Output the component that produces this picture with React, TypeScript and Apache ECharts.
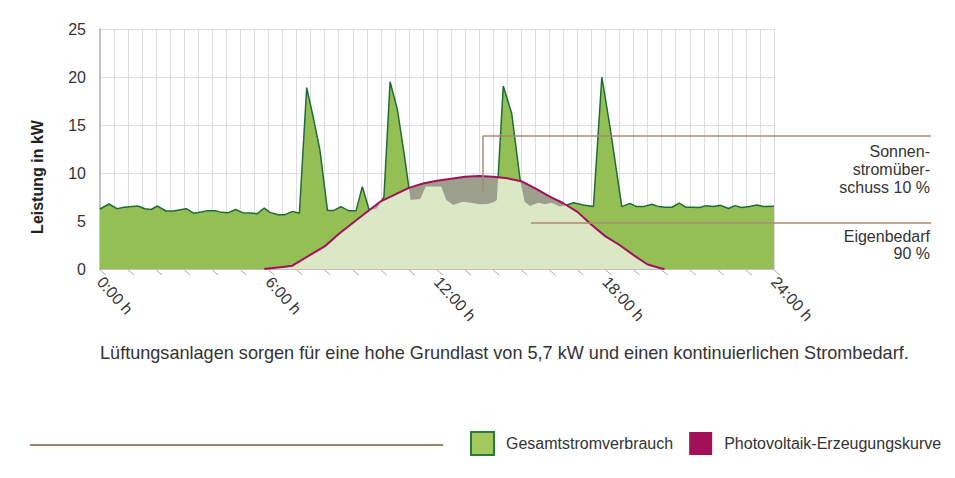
import React, { useEffect, useRef } from "react";
import * as echarts from "echarts";

// ---- data (hours of day, kW) ----
const consHours = [0, 0.32, 0.6, 0.83, 1.07, 1.34, 1.6, 1.82, 2.05, 2.35, 2.61, 2.81, 3.07, 3.35, 3.6, 3.83, 4.1, 4.33, 4.57, 4.83, 5.08, 5.34, 5.6, 5.85, 6.05,
  6.35, 6.59, 6.86, 7.1, 7.36, 7.6, 7.83, 8.1, 8.33, 8.58, 8.84, 9.12, 9.34, 9.59, 9.85, 10.11, 10.33, 10.59, 10.83, 11.06, 11.4, 11.6,
  12.15, 12.33, 12.58, 12.9, 13.2, 13.5, 13.8, 14.05, 14.13, 14.36, 14.66, 14.96, 15.12, 15.31, 15.61, 15.85, 16.08, 16.38, 16.62, 16.86, 17.21, 17.57, 17.87, 18.16, 18.58,
  18.87, 19.09, 19.35, 19.65, 19.89, 20.12, 20.36, 20.63, 20.87, 21.07, 21.34, 21.58, 21.84, 22.1, 22.38, 22.61, 22.85, 23.12, 23.39, 23.62, 24];
const consKW = [6.25, 6.77, 6.28, 6.42, 6.49, 6.56, 6.28, 6.2, 6.56, 6.04, 6.04, 6.15, 6.28, 5.8, 5.94, 6.08, 6.08, 5.9, 5.87, 6.2, 5.87, 5.83, 5.76, 6.35, 5.9,
  5.66, 5.66, 6.0, 5.8, 18.9, 15.7, 12.4, 6.1, 6.1, 6.5, 6.08, 6.08, 8.58, 6.1, 6.3, 7.5, 19.5, 16.6, 12.0, 7.2, 7.3, 8.6,
  8.6, 7.2, 6.67, 7.0, 6.9, 6.74, 6.78, 7.0, 7.2, 19.06, 16.2, 9.3, 7.0, 6.56, 6.9, 6.75, 6.9, 6.5, 6.67, 6.9, 6.67, 6.5, 20.0, 14.8, 6.5,
  6.84, 6.5, 6.5, 6.74, 6.5, 6.43, 6.43, 6.87, 6.43, 6.43, 6.4, 6.6, 6.5, 6.63, 6.3, 6.6, 6.4, 6.5, 6.67, 6.5, 6.53];

const pvHours = [5.85, 6.0, 6.5, 6.85, 7.0, 7.5, 8.0, 8.5, 9.0, 9.5, 10.0, 10.5, 11.0, 11.5, 12.0, 12.5, 13.0, 13.5, 14.0, 14.5, 15.0, 15.5, 16.0, 16.5, 17.0, 17.5, 18.0, 18.5, 19.0, 19.5, 20.0, 20.1];
const pvKW = [0, 0.05, 0.2, 0.35, 0.62, 1.49, 2.35, 3.64, 4.8, 5.93, 7.05, 7.74, 8.45, 8.9, 9.2, 9.4, 9.6, 9.7, 9.6, 9.45, 9.15, 8.4, 7.57, 6.85, 5.95, 4.6, 3.4, 2.5, 1.45, 0.47, 0.05, 0];

const axisTickHours = [0, 1, 2, 3, 4, 5, 6, 7, 8, 9, 10, 11, 12, 13, 14, 15, 16, 17, 18, 19, 20, 21, 22, 23, 24];
const labelHours = [0, 6, 12, 18, 24];

const seriesNames = ["Gesamtstromverbrauch", "Photovoltaik-Erzeugungskurve"];
const subtitle = "Lüftungsanlagen sorgen für eine hohe Grundlast von 5,7 kW und einen kontinuierlichen Strombedarf.";
const surplusText = "Sonnen-\nstromüber-\nschuss 10 %";
const ownUseText = "Eigenbedarf\n90 %";
const yAxisTitle = "Leistung in kW";

const FONT = "'Liberation Sans', Arial, Helvetica, sans-serif";

function valueAt(xs: number[], ys: number[], x: number, outside: number) {
  if (x < xs[0] || x > xs[xs.length - 1]) return outside;
  for (let i = 0; i < xs.length - 1; i++) {
    if (x >= xs[i] && x <= xs[i + 1]) {
      const t = (x - xs[i]) / (xs[i + 1] - xs[i]);
      return ys[i] + (ys[i + 1] - ys[i]) * t;
    }
  }
  return ys[ys.length - 1];
}

function buildMin() {
  const all = Array.from(new Set([...consHours, ...pvHours])).sort((a, b) => a - b);
  const c = (x: number) => valueAt(consHours, consKW, x, 0);
  const p = (x: number) => valueAt(pvHours, pvKW, x, 0);
  const out: number[][] = [];
  for (let i = 0; i < all.length; i++) {
    const t0 = all[i];
    out.push([t0, Math.min(c(t0), p(t0))]);
    if (i < all.length - 1) {
      const t1 = all[i + 1];
      const d0 = c(t0) - p(t0);
      const d1 = c(t1) - p(t1);
      if (d0 * d1 < 0) {
        const tx = t0 + ((t1 - t0) * d0) / (d0 - d1);
        out.push([tx, c(tx)]);
      }
    }
  }
  return out;
}

export default function App() {
  const ref = useRef<HTMLDivElement>(null);
  useEffect(() => {
    if (!ref.current) return;
    const chart = echarts.init(ref.current, null, { renderer: "svg" });
    const cons = consHours.map((h, i) => [h, consKW[i]]);
    const pv = pvHours.map((h, i) => [h, pvKW[i]]);
    const minData = buildMin();
    const brown = "#a88b70";
    const option: any = {
      animation: false,
      backgroundColor: "#ffffff",
      textStyle: { fontFamily: FONT },
      grid: { left: 100, top: 29, width: 674, height: 240, containLabel: false, outerBoundsMode: "none" },
      legend: {
        selectedMode: false,
        left: 470,
        top: 431,
        padding: 0,
        icon: "rect",
        itemWidth: 23,
        itemHeight: 23,
        itemGap: 16,
        textStyle: { fontSize: 16, color: "#333", fontFamily: FONT, padding: [0, 0, 0, 7] },
        data: [
          { name: seriesNames[0], itemStyle: { color: "#a3c85b", borderColor: "#2b7a3b", borderWidth: 2 } },
          { name: seriesNames[1], itemStyle: { color: "#a3105a" } },
        ],
      },
      xAxis: {
        type: "value",
        min: 0,
        max: 24,
        interval: 0.5,
        axisLine: { show: true, lineStyle: { color: "#b5b5b5", width: 1.5 } },
        axisTick: { show: false },
        splitLine: { show: true, lineStyle: { color: "#dddddd", width: 1 } },
        axisLabel: {
          rotate: -48,
          margin: 10,
          fontSize: 16,
          color: "#333",
          fontFamily: FONT,
          showMinLabel: true,
          showMaxLabel: true,
          formatter: (v: number) => (labelHours.indexOf(v) >= 0 ? `${v}:00 h` : ""),
        },
      },
      yAxis: {
        type: "value",
        min: 0,
        max: 25,
        interval: 5,
        axisLine: { show: true, lineStyle: { color: "#b5b5b5", width: 1.5 } },
        axisTick: { show: false },
        splitLine: { show: true, lineStyle: { color: "#dddddd", width: 1 } },
        axisLabel: { fontSize: 16, color: "#333", margin: 14, fontFamily: FONT },
      },
      series: [
        {
          name: seriesNames[0],
          type: "line",
          data: cons,
          symbol: "none",
          z: 2,
          itemStyle: { color: "#93bf55" },
          lineStyle: { color: "#1f6c35", width: 1.5 },
          areaStyle: { color: "#93bf55", opacity: 1 },
        },
        {
          name: "Sonnenstromüberschuss",
          type: "line",
          data: pv,
          symbol: "none",
          z: 3,
          silent: true,
          lineStyle: { width: 0, opacity: 0 },
          areaStyle: { color: "#9c9f8b", opacity: 1 },
        },
        {
          name: "Eigenbedarf",
          type: "line",
          data: minData,
          symbol: "none",
          z: 4,
          silent: true,
          lineStyle: { width: 0, opacity: 0 },
          areaStyle: { color: "#dce8c5", opacity: 1 },
        },
        {
          name: seriesNames[1],
          type: "line",
          data: pv,
          symbol: "none",
          z: 5,
          itemStyle: { color: "#a3105a" },
          lineStyle: { color: "#a3105a", width: 2 },
        },
        {
          name: "ticks",
          type: "custom",
          data: axisTickHours.map((h) => [h, 0]),
          clip: false,
          silent: true,
          z: 6,
          renderItem: (params: any, api: any) => {
            const p = api.coord([api.value(0), 0]);
            return {
              type: "line",
              shape: { x1: p[0], y1: p[1] + 1, x2: p[0] + 6, y2: p[1] + 6 },
              style: { stroke: "#aaaaaa", lineWidth: 1 },
            };
          },
        },
      ],
      graphic: [
        {
          type: "text",
          x: 37,
          y: 177,
          rotation: Math.PI / 2,
          style: { text: yAxisTitle, fontSize: 16, fontWeight: "bold", fill: "#222", fontFamily: FONT, align: "center", verticalAlign: "middle" },
        },
        { type: "line", z: 100, shape: { x1: 483, y1: 192, x2: 483, y2: 136 }, style: { stroke: brown, lineWidth: 1.5 } },
        { type: "line", z: 100, shape: { x1: 483, y1: 136, x2: 931, y2: 136 }, style: { stroke: brown, lineWidth: 1.5 } },
        { type: "line", z: 100, shape: { x1: 531, y1: 223, x2: 931, y2: 223 }, style: { stroke: brown, lineWidth: 1.5 } },
        {
          type: "text",
          x: 930,
          y: 142,
          style: { text: surplusText, fontSize: 16, lineHeight: 18, fill: "#333", fontFamily: FONT, align: "right", verticalAlign: "top" },
        },
        {
          type: "text",
          x: 930,
          y: 228,
          style: { text: ownUseText, fontSize: 16, lineHeight: 17, fill: "#333", fontFamily: FONT, align: "right", verticalAlign: "top" },
        },
        {
          type: "text",
          x: 100,
          y: 353,
          style: { text: subtitle, fontSize: 18.1, fill: "#333", fontFamily: FONT, align: "left", verticalAlign: "middle" },
        },
        { type: "line", shape: { x1: 30, y1: 445, x2: 443, y2: 445 }, style: { stroke: "#a58466", lineWidth: 2 } },
      ],
    };
    chart.setOption(option);
    return () => chart.dispose();
  }, []);
  return <div ref={ref} style={{ position: "fixed", left: 0, top: 0, width: 955, height: 478 }} />;
}
